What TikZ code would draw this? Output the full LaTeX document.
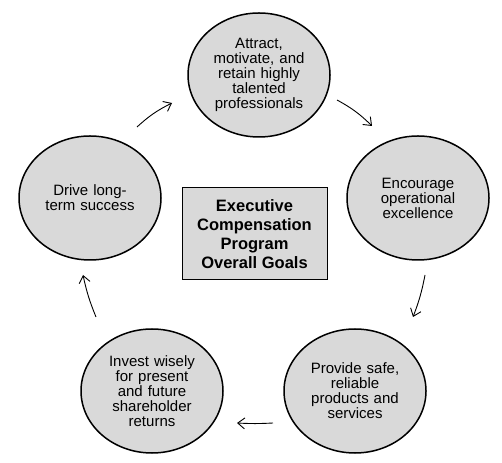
\documentclass[tikz,border=0pt]{standalone}
\usepackage{fontspec}
\setmainfont{Liberation Sans}
\usetikzlibrary{arrows.meta,shapes.geometric}
\begin{document}
\begin{tikzpicture}[x=1pt,y=1pt,
  goal/.style={ellipse,draw=black,line width=1.5pt,fill=gray!30!white,
    minimum width=142pt,minimum height=124pt,inner sep=0pt,align=center,
    font=\fontsize{15}{15}\selectfont,text width=100pt},
  center/.style={rectangle,draw=black,line width=1pt,fill=gray!30!white,
    minimum width=145pt,minimum height=92pt,align=center,
    font=\bfseries\fontsize{16.5}{19}\selectfont},
  flow/.style={line width=0.9pt,-{Straight Barb[length=7pt,width=11pt]}}]
\useasboundingbox (0,0) rectangle (502,462);
\fill[white] (0,0) rectangle (502,462);
\node[goal] (attract) at (259,387) {Attract,\\motivate, and\\retain highly\\talented\\professionals};
\node[goal] (encourage) at (418,264) {Encourage\\operational\\excellence};
\node[goal] (provide) at (355,71) {Provide safe,\\reliable\\products and\\services};
\node[goal] (invest) at (152,71) {Invest wisely\\for present\\and future\\shareholder\\returns};
\node[goal] (drive) at (90,264) {Drive long-\\term success};
\node[center] (goals) at (254.5,228) {Executive\\Compensation\\Program\\Overall Goals};
\coordinate (a1s) at (137,335); \coordinate (a1e) at (172,359);
\coordinate (a2s) at (337,362); \coordinate (a2e) at (372,336);
\coordinate (a3s) at (425,187); \coordinate (a3e) at (413,145);
\coordinate (a4s) at (273,39);  \coordinate (a4e) at (237,39);
\coordinate (a5s) at (96,145);  \coordinate (a5e) at (83,187);
\draw[flow] (a1s) to[bend left=8] (a1e);
\draw[flow] (a2s) to[bend left=8] (a2e);
\draw[flow] (a3s) to[bend left=5] (a3e);
\draw[flow] (a4s) to[bend left=3] (a4e);
\draw[flow] (a5s) to[bend left=5] (a5e);
\end{tikzpicture}
\end{document}
